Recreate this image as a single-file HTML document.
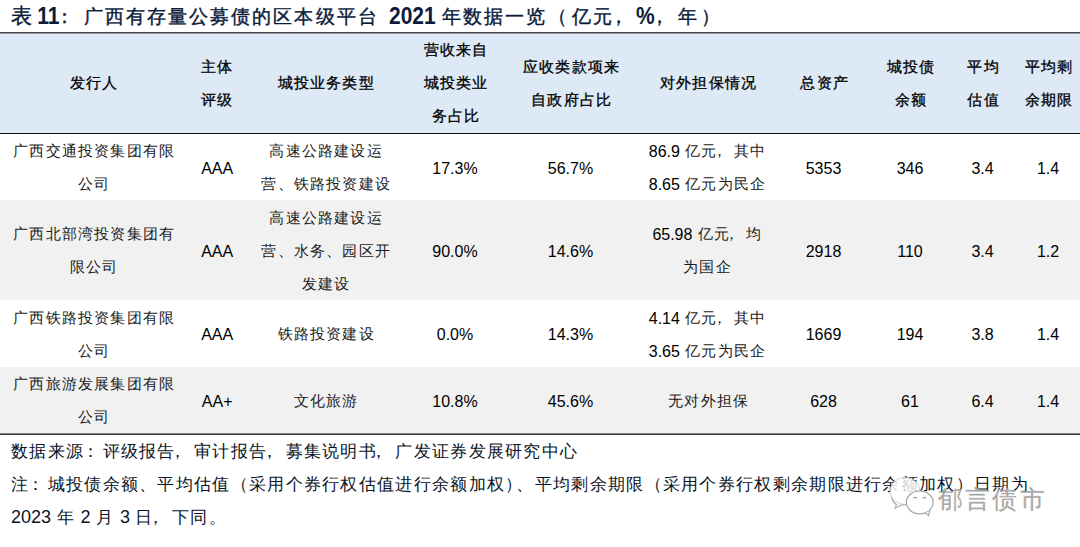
<!DOCTYPE html>
<html><head><meta charset="utf-8"><style>
html,body{margin:0;padding:0;background:#fff;width:1080px;height:547px;overflow:hidden;position:relative}
body{font-family:"Liberation Serif",serif;}
.title{position:absolute;left:11px;top:0px;height:32px;line-height:32px;font-size:21px;font-weight:bold;color:#0b1b3b;white-space:nowrap}
.title span{position:absolute;top:1px;font-weight:normal;-webkit-text-stroke:0.4px #0b1b3b;font-size:19px;letter-spacing:2.1px}
.title span.n{font-weight:bold;-webkit-text-stroke:0;top:1px;transform:scaleY(1.1);transform-origin:0 23px;font-size:21px;letter-spacing:0}
.title .n{font-family:"Liberation Sans",sans-serif}
.d{position:relative;top:1px}
.cm{position:relative;left:-0.39em}
.cl{position:relative;left:-0.14em}
.hl{position:absolute;left:0;width:1080px}
.c{position:absolute;width:220px;text-align:center;line-height:33px;font-size:16px;white-space:nowrap;color:#000;letter-spacing:0.2px}
.h{font-weight:normal;-webkit-text-stroke:0.3px #000;font-size:15px;letter-spacing:1.2px;padding-left:1.2px}
.b{font-family:"Liberation Sans","Liberation Serif",sans-serif;color:#1c1c1c;font-size:15px;letter-spacing:1.2px}
.cj{padding-left:1.2px}
.b .d{color:#000;font-size:16px;letter-spacing:0}
.foot{position:absolute;left:11px;font-size:17px;line-height:33px;color:#0b1426;white-space:nowrap;letter-spacing:1.3px}
.foot .n{font-family:"Liberation Sans",sans-serif;letter-spacing:0;font-size:18px}
.wm{position:absolute;left:938px;top:484px;font-size:25px;line-height:32px;color:#a6a6a6;letter-spacing:2.2px;text-shadow:1px 1px 0 rgba(255,255,255,0.9),-1px -1px 0 rgba(120,120,120,0.15)}
</style></head><body>
<div class="hl" style="top:33px;height:100px;background:#dde9f5"></div>
<div class="hl" style="top:200px;height:100px;background:#f1f1f1"></div>
<div class="hl" style="top:367px;height:66px;background:#f1f1f1"></div>
<div class="hl" style="top:32px;height:1px;background:#464646"></div>
<div class="hl" style="top:33px;height:1px;background:#8d969f"></div>
<div class="hl" style="top:133px;height:1px;background:#111"></div>
<div class="hl" style="top:433px;height:1px;background:#858585"></div>
<div class="hl" style="top:434px;height:1px;background:#3a3a3a"></div>
<div class="title">
<span style="left:0px;font-size:21px;top:0">表</span><span class="n" style="left:26.3px">11</span><span style="left:43.5px">：</span><span style="left:72.5px">广西有存量公募债的区本级平台</span><span class="n" style="left:378px">2021</span><span style="left:431px">年数据一览</span><span style="left:537.2px">（</span><span style="left:561px">亿元</span><span style="left:598.2px">，</span><span class="n" style="left:625px">%</span><span style="left:638.8px">，</span><span style="left:667px">年</span><span style="left:690.2px">）</span>
</div>
<div class="c h" style="left:-17px;top:67.0px">发行人</div>
<div class="c h" style="left:106px;top:50.5px">主体<br>评级</div>
<div class="c h" style="left:215px;top:67.0px">城投业务类型</div>
<div class="c h" style="left:345px;top:34.0px">营收来自<br>城投类业<br>务占比</div>
<div class="c h" style="left:460.5px;top:50.5px">应收类款项来<br>自政府占比</div>
<div class="c h" style="left:597.5px;top:67.0px">对外担保情况</div>
<div class="c h" style="left:713.5px;top:67.0px">总资产</div>
<div class="c h" style="left:800px;top:50.5px">城投债<br>余额</div>
<div class="c h" style="left:872.5px;top:50.5px">平均<br>估值</div>
<div class="c h" style="left:938px;top:50.5px">平均剩<br>余期限</div>
<div class="c b cj" style="left:-17px;top:134.0px">广西交通投资集团有限<br>公司</div>
<div class="c b cj" style="left:106px;top:150.5px"><span class="d">AAA</span></div>
<div class="c b cj" style="left:215px;top:134.0px">高速公路建设运<br>营、铁路投资建设</div>
<div class="c b" style="left:345px;top:150.5px"><span class="d">17.3%</span></div>
<div class="c b" style="left:460.5px;top:150.5px"><span class="d">56.7%</span></div>
<div class="c b" style="left:597.5px;top:134.0px"><span class="d">86.9</span> 亿元<span class="cm">，</span>其中<br><span class="d">8.65</span> 亿元为民企</div>
<div class="c b" style="left:713.5px;top:150.5px"><span class="d">5353</span></div>
<div class="c b" style="left:800px;top:150.5px"><span class="d">346</span></div>
<div class="c b" style="left:872.5px;top:150.5px"><span class="d">3.4</span></div>
<div class="c b" style="left:938px;top:150.5px"><span class="d">1.4</span></div>
<div class="c b cj" style="left:-17px;top:217.0px">广西北部湾投资集团有<br>限公司</div>
<div class="c b cj" style="left:106px;top:233.5px"><span class="d">AAA</span></div>
<div class="c b cj" style="left:215px;top:200.5px">高速公路建设运<br>营、水务、园区开<br>发建设</div>
<div class="c b" style="left:345px;top:233.5px"><span class="d">90.0%</span></div>
<div class="c b" style="left:460.5px;top:233.5px"><span class="d">14.6%</span></div>
<div class="c b" style="left:597.5px;top:217.0px"><span class="d">65.98</span> 亿元<span class="cm">，</span>均<br>为国企</div>
<div class="c b" style="left:713.5px;top:233.5px"><span class="d">2918</span></div>
<div class="c b" style="left:800px;top:233.5px"><span class="d">110</span></div>
<div class="c b" style="left:872.5px;top:233.5px"><span class="d">3.4</span></div>
<div class="c b" style="left:938px;top:233.5px"><span class="d">1.2</span></div>
<div class="c b cj" style="left:-17px;top:300.5px">广西铁路投资集团有限<br>公司</div>
<div class="c b cj" style="left:106px;top:317.0px"><span class="d">AAA</span></div>
<div class="c b cj" style="left:215px;top:317.0px">铁路投资建设</div>
<div class="c b" style="left:345px;top:317.0px"><span class="d">0.0%</span></div>
<div class="c b" style="left:460.5px;top:317.0px"><span class="d">14.3%</span></div>
<div class="c b" style="left:597.5px;top:300.5px"><span class="d">4.14</span> 亿元<span class="cm">，</span>其中<br><span class="d">3.65</span> 亿元为民企</div>
<div class="c b" style="left:713.5px;top:317.0px"><span class="d">1669</span></div>
<div class="c b" style="left:800px;top:317.0px"><span class="d">194</span></div>
<div class="c b" style="left:872.5px;top:317.0px"><span class="d">3.8</span></div>
<div class="c b" style="left:938px;top:317.0px"><span class="d">1.4</span></div>
<div class="c b cj" style="left:-17px;top:367.0px">广西旅游发展集团有限<br>公司</div>
<div class="c b cj" style="left:106px;top:383.5px"><span class="d">AA+</span></div>
<div class="c b cj" style="left:215px;top:383.5px">文化旅游</div>
<div class="c b" style="left:345px;top:383.5px"><span class="d">10.8%</span></div>
<div class="c b" style="left:460.5px;top:383.5px"><span class="d">45.6%</span></div>
<div class="c b cj" style="left:597.5px;top:383.5px">无对外担保</div>
<div class="c b" style="left:713.5px;top:383.5px"><span class="d">628</span></div>
<div class="c b" style="left:800px;top:383.5px"><span class="d">61</span></div>
<div class="c b" style="left:872.5px;top:383.5px"><span class="d">6.4</span></div>
<div class="c b" style="left:938px;top:383.5px"><span class="d">1.4</span></div>

<div class="foot" style="top:435px">数据来源<span class="cl">：</span>评级报告<span class="cm">，</span>审计报告<span class="cm">，</span>募集说明书<span class="cm">，</span>广发证券发展研究中心</div>
<div class="foot" style="top:468px">注<span class="cl">：</span>城投债余额、平均估值（采用个券行权估值进行余额加权<span style="margin-right:-7px">）</span>、平均剩余期限（采用个券行权剩余期限进行余额加权）日期为</div>
<div class="foot" style="top:501px"><span class="n">2023</span> 年 <span class="n">2</span> 月 <span class="n">3</span> 日<span class="cm">，</span>下同。</div>
<svg class="wmi" width="60" height="50" viewBox="0 0 60 50" style="position:absolute;left:884px;top:470px">
<ellipse cx="21" cy="21" rx="15" ry="13.5" fill="rgba(255,255,255,0.82)" stroke="rgba(170,170,170,0.55)" stroke-width="1"/>
<path d="M7.5 27 C8.5 31 10.5 33.5 12.5 34.5 L11.2 38.2 L17.5 34.8 L23 35" fill="none" stroke="#b0b0b0" stroke-width="1.2"/>
<ellipse cx="35.75" cy="32.3" rx="13.4" ry="11.5" fill="rgba(255,255,255,0.95)" stroke="#a6a6a6" stroke-width="1.3"/>
<path d="M41.5 42.8 L44.5 45.6 L45.8 41" fill="#fff" stroke="#a6a6a6" stroke-width="1.2"/>
<path d="M29.7 28.6 a1.4 1.4 0 0 1 2.8 0 M39 28.6 a1.4 1.4 0 0 1 2.8 0" fill="none" stroke="#8f8f8f" stroke-width="1.1"/>
</svg>
<div class="wm">郁言债市</div>
</body></html>
